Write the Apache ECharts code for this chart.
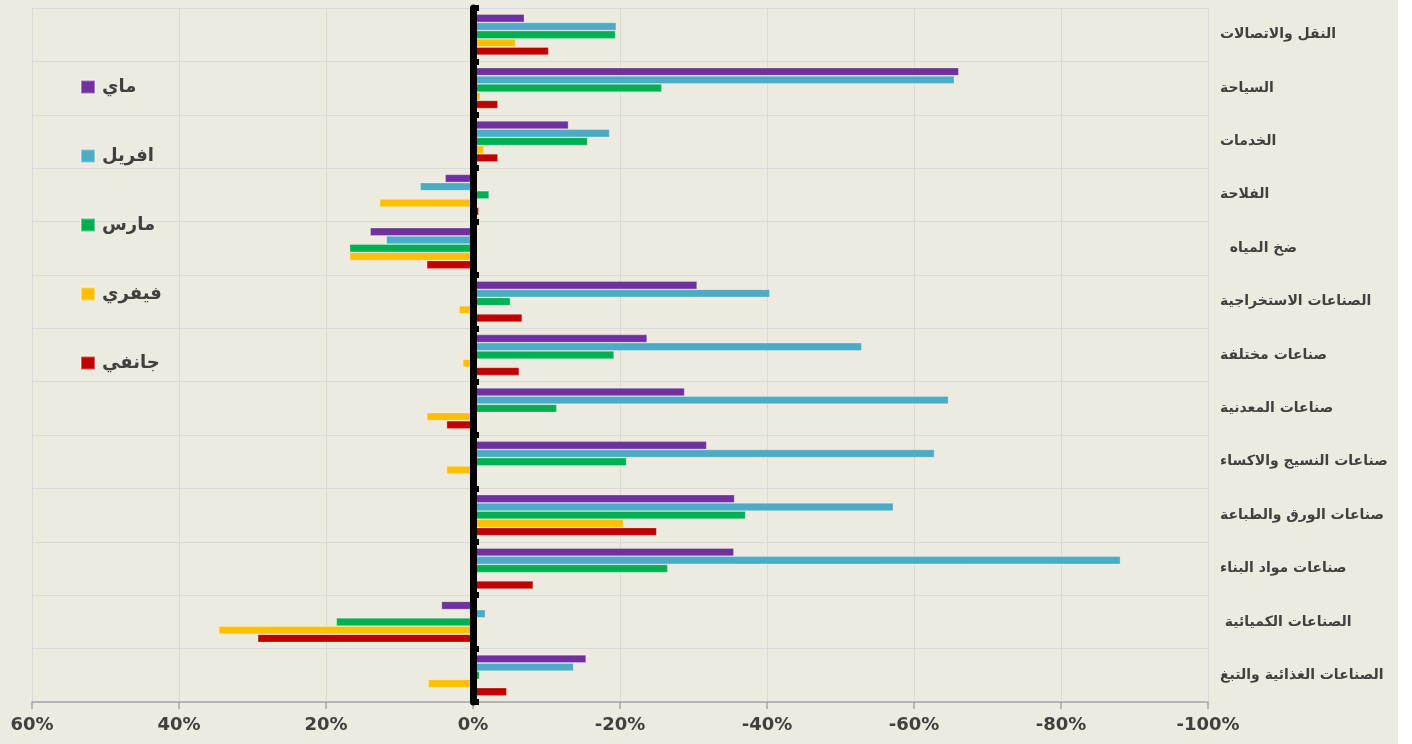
<!DOCTYPE html>
<html>
<head>
<meta charset="utf-8">
<script src="https://cdn.jsdelivr.net/npm/echarts@6/dist/echarts.min.js"></script>
<style>
html,body{margin:0;padding:0;background:#ffffff;}
#chart{width:1398px;height:744px;background:#EDEBE0;}
</style>
</head>
<body>
<div id="chart"></div>
<script>
// Categories, top to bottom
const categories = [
  'النقل والاتصالات',
  'السياحة',
  'الخدمات',
  'الفلاحة',
  '\u00A0\u00A0ضخ المياه',
  'الصناعات الاستخراجية',
  'صناعات مختلفة',
  'صناعات المعدنية',
  'صناعات النسيج والاكساء',
  'صناعات الورق والطباعة',
  'صناعات مواد البناء',
  '\u00A0الصناعات الكميائية',
  'الصناعات الغذائية والتبغ'
];
const seriesNames = ['ماي', 'افريل', 'مارس', 'فيفري', 'جانفي'];
const may   = [-7.0, -66.1, -13.0,  3.8, 14.0, -30.5, -23.7, -28.8, -31.8, -35.6, -35.5,  4.3, -15.4];
const april = [-19.5, -65.5, -18.6, 7.2, 11.8, -40.4, -52.9, -64.7, -62.8, -57.2, -88.1, -1.7, -13.7];
const march = [-19.4, -25.7, -15.6, -2.2, 16.8, -5.1, -19.2, -11.4, -20.9, -37.1, -26.5, 18.6, -0.9];
const feb   = [-5.8, -1.0, -1.5, 12.7, 16.8, 1.9, 1.4, 6.3, 3.6, -20.5, 0.3, 34.6, 6.1];
const jan   = [-10.3, -3.4, -3.4, -0.8, 6.3, -6.7, -6.3, 3.6, 0, -25.0, -8.2, 29.3, -4.6];
const xTicks = { min: -100, max: 60, interval: 20 };
const colors = ['#7030A0', '#4BACC6', '#00B050', '#FFC000', '#C00000'];

const seriesData = [may, april, march, feb, jan];
const chart = echarts.init(document.getElementById('chart'), null, { renderer: 'canvas' });
const option = {
  backgroundColor: '#EDEBE0',
  animation: false,
  color: colors,
  legend: {
    orient: 'vertical',
    left: 80,
    top: 77,
    padding: 0,
    itemWidth: 14,
    itemHeight: 13,
    itemGap: 49,
    icon: 'rect',
    data: seriesNames,
    textStyle: { fontFamily: 'DejaVu Sans', fontWeight: 'bold', fontSize: 18, color: '#404040', lineHeight: 20, padding: [0, 0, 0, 2] }
  },
  grid: { left: 32, right: 190, top: 8, bottom: 42, containLabel: false },
  xAxis: {
    type: 'value',
    inverse: true,
    min: xTicks.min,
    max: xTicks.max,
    interval: xTicks.interval,
    axisLine: { show: true, onZero: false, lineStyle: { color: '#A6A6A6', width: 1.5 } },
    axisTick: { show: true, length: 7, lineStyle: { color: '#A6A6A6', width: 1.5 } },
    axisLabel: {
      formatter: '{value}%', margin: 14,
      fontFamily: 'DejaVu Sans', fontWeight: 'bold', fontSize: 18, color: '#404040'
    },
    splitLine: { show: true, lineStyle: { color: '#D9D9D9', width: 1 } }
  },
  yAxis: [
    {
      type: 'category',
      inverse: true,
      position: 'right',
      data: categories,
      axisLine: { show: false, onZero: false },
      axisTick: { show: false },
      axisLabel: {
        margin: 12, align: 'left',
        fontFamily: 'DejaVu Sans', fontWeight: 'bold', fontSize: 14, color: '#404040'
      },
      splitLine: { show: true, lineStyle: { color: '#D9D9D9', width: 1 } }
    },
    {
      type: 'category',
      inverse: true,
      position: 'right',
      data: categories,
      z: 10,
      axisLine: { show: true, onZero: true, onZeroAxisIndex: 0, lineStyle: { color: '#000000', width: 7 } },
      axisTick: { show: true, length: 6, lineStyle: { color: '#000000', width: 6 } },
      axisLabel: { show: false },
      splitLine: { show: false }
    }
  ],
  series: seriesNames.map((name, i) => ({
    name: name,
    type: 'bar',
    yAxisIndex: 0,
    data: seriesData[i],
    barGap: '0%',
    barCategoryGap: '23%',
    itemStyle: { color: colors[i], borderColor: 'rgba(255,255,255,0.35)', borderWidth: 0.8 }
  }))
};
chart.setOption(option);
</script>
</body>
</html>
